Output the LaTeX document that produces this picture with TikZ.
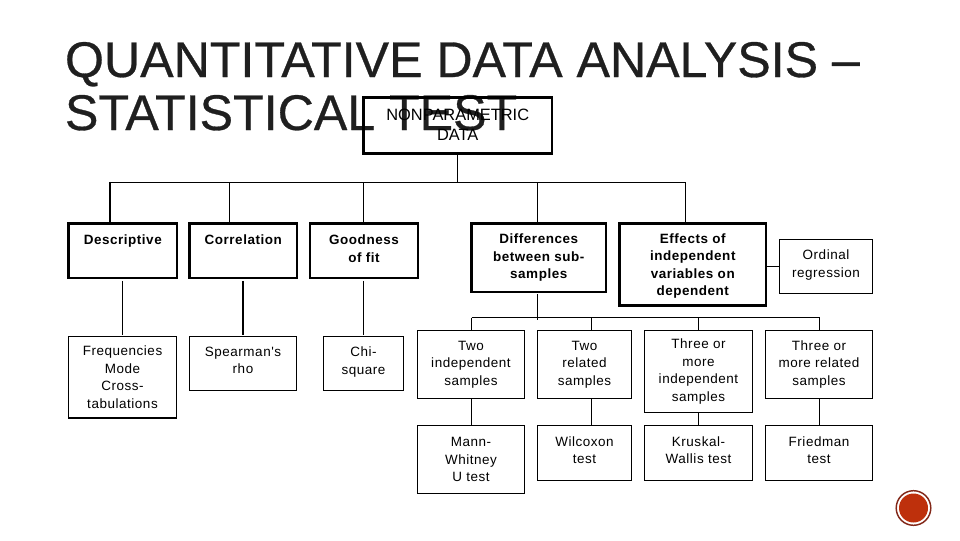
\documentclass[tikz,border=0pt]{standalone}
\usepackage{fontspec}
\setmainfont{Liberation Sans}
\newfontfamily\chartfont[LetterSpace=4]{Liberation Sans}
\newfontfamily\titlefont[FakeBold=0.6]{Liberation Sans}
\newcommand{\bx}[7][]{\node[boxbase,#1,minimum width={(#5-#3)*0.75pt},minimum height={(#6-#4)*0.75pt}] (#2) at ({(#3+#5)/2},{(#4+#6)/2}) {#7};}
\newcommand{\lowstrut}[1]{\rule[-#1]{0pt}{0pt}}
\tikzset{
  boxbase/.style={draw=black,rectangle,inner sep=0pt,outer sep=0pt,align=center,text=black,line width=0.75pt,
    font=\chartfont\fontsize{10.1pt}{13.1pt}\selectfont},
  topbox/.style={line width=2pt,font=\fontsize{12.3pt}{15pt}\selectfont},
  headbox/.style={line width=1.55pt,font=\chartfont\bfseries\fontsize{10.1pt}{13.1pt}\selectfont},
  heavy/.style={line width=1.1pt},
  conn/.style={draw=black,line width=0.75pt},
  titletext/.style={anchor=base west,inner sep=0pt,outer sep=0pt,text=black!88,font=\titlefont\fontsize{37.6pt}{40pt}\selectfont}
}
\begin{document}
\begin{tikzpicture}[x=0.75pt,y=-0.75pt]
\useasboundingbox (0,0) rectangle (960,540);
% title
\node[titletext] (t1) at (65,77) {QUANTITATIVE DATA ANALYSIS –};
\node[titletext] (t2) at (65,130) {STATISTICAL TEST};
% root
\bx[topbox]{np}{363.5}{97.5}{552}{153.5}{NONPARAMETRIC\\DATA\lowstrut{1.5pt}}
% second row
\bx[headbox]{desc}{68.5}{223.5}{177}{278}{Descriptive\\ \strut}
\bx[headbox]{corr}{189.5}{223.5}{297}{278}{Correlation\\ \strut}
\bx[headbox]{good}{310}{223.5}{418}{278}{Goodness\\of fit\lowstrut{3pt}}
\bx[headbox]{diff}{471.5}{223.5}{606}{292}{Differences\\between sub-\\samples}
\bx[headbox]{eff}{619.5}{223.5}{766}{305.5}{\rule{0pt}{9.7pt}Effects of\\independent\\variables on\\dependent}
\bx{ord}{779.5}{239.5}{872.5}{293}{Ordinal\\regression\lowstrut{4.1pt}}
% third row
\bx[heavy]{freq}{68.5}{336.5}{176.5}{418}{Frequencies\\Mode\\Cross-\\tabulations}
\bx{spear}{189.5}{336.5}{296.5}{390}{Spearman's\\rho\lowstrut{4.3pt}}
\bx{chi}{323.5}{336.5}{403.5}{390}{Chi-\\square\lowstrut{4.3pt}}
\bx{twoind}{417.5}{330.5}{524.5}{398.5}{Two\\independent\\samples}
\bx{tworel}{537.5}{330.5}{631.5}{398.5}{Two\\related\\samples}
\bx{threeind}{644.5}{330.5}{752.5}{412.5}{Three or\\more\\independent\\samples}
\bx{threerel}{765.5}{330.5}{872.5}{398.5}{Three or\\more related\\samples}
% fourth row
\bx{mann}{417.5}{425.5}{524.5}{493.5}{Mann-\\Whitney\\U test}
\bx{wil}{537.5}{425.5}{631.5}{480.5}{Wilcoxon\\test\lowstrut{4.5pt}}
\bx{krus}{644.5}{425.5}{752.5}{480.5}{Kruskal-\\Wallis test\lowstrut{4.5pt}}
\bx{fried}{765.5}{425.5}{872.5}{480.5}{Friedman\\test\lowstrut{4.5pt}}
% heavier left edges
\draw[line width=1.3pt] (threeind.north west) -- (threeind.south west);
\draw[line width=1.3pt] (krus.north west) -- (krus.south west);
% top bus
\coordinate (busL) at (109.5,182.5);
\coordinate (busC) at (229.5,182.5);
\coordinate (busG) at (363.5,182.5);
\coordinate (busN) at (457.5,182.5);
\coordinate (busD) at (537.5,182.5);
\coordinate (busR) at (685.5,182.5);
\draw[conn] (busL) -- (busR);
\draw[conn] (busN |- np.south) -- (busN);
\draw[conn,line width=1.5pt] ([yshift=0.5pt]busL) -- (busL |- desc.north);
\draw[conn] (busC) -- (busC |- corr.north);
\draw[conn] (busG) -- (busG |- good.north);
\draw[conn] (busD) -- (busD |- diff.north);
\draw[conn] (busR) -- (busR |- eff.north);
\draw[conn] (eff.east |- 0,266.5) -- (ord.west |- 0,266.5);
% descents
\coordinate (dropA) at (122.5,300);
\coordinate (dropB) at (243,300);
\coordinate (dropC) at (363.5,300);
\draw[conn,shorten <=2.2pt,shorten >=1pt] (dropA |- desc.south) -- (dropA |- freq.north);
\draw[conn,line width=1.5pt,shorten <=2.2pt,shorten >=1pt] (dropB |- corr.south) -- (dropB |- spear.north);
\draw[conn,shorten <=2.2pt,shorten >=1pt] (dropC |- good.south) -- (dropC |- chi.north);
% lower bus
\coordinate (bus2a) at (471.5,317.5);
\coordinate (bus2m) at (537.5,317.5);
\coordinate (bus2b) at (591.5,317.5);
\coordinate (bus2c) at (698.5,317.5);
\coordinate (bus2d) at (819.5,317.5);
\draw[conn,shorten <=1.5pt] (bus2m |- diff.south) -- ([yshift=-2pt]bus2m);
\draw[conn] (bus2a) -- (bus2d);
\draw[conn] (bus2a) -- (bus2a |- twoind.north);
\draw[conn] (bus2b) -- (bus2b |- tworel.north);
\draw[conn] (bus2c) -- (bus2c |- threeind.north);
\draw[conn] (bus2d) -- (bus2d |- threerel.north);
\draw[conn] (bus2a |- twoind.south) -- (bus2a |- mann.north);
\draw[conn] (bus2b |- tworel.south) -- (bus2b |- wil.north);
\draw[conn] (bus2c |- threeind.south) -- (bus2c |- krus.north);
\draw[conn] (bus2d |- threerel.south) -- (bus2d |- fried.north);
% badge
\fill[fill={rgb,255:red,190;green,48;blue,12}] (913.5,508) circle[radius=14.5];
\draw[draw={rgb,255:red,130;green,40;blue,25},line width=1.1pt] (913.5,508) circle[radius=17.3];
\end{tikzpicture}
\end{document}
